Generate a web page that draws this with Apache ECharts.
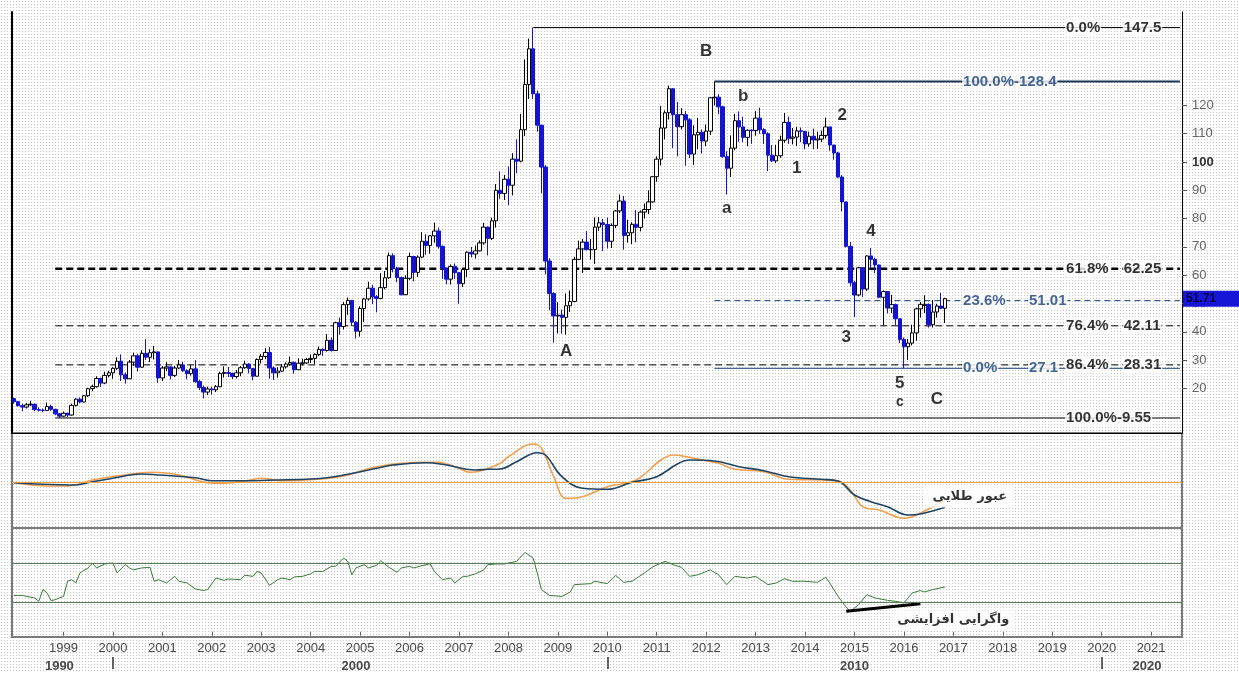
<!DOCTYPE html>
<html>
<head>
<meta charset="utf-8">
<script src="https://cdn.jsdelivr.net/npm/echarts@6/dist/echarts.min.js"></script>
<style>
  html, body { margin: 0; padding: 0; }
  #chart {
    width: 1239px;
    height: 673px;
    background-color: #fff;
    background-image: radial-gradient(#c6c6c6 0.7px, transparent 0.8px);
    background-size: 3px 3px;
  }
</style>
</head>
<body>
<div id="chart"></div>
<script>
// monthly categories Jan 1998 .. Aug 2021
const months = [];
for (let y = 1998; y <= 2021; y++) {
  for (let m = 1; m <= 12; m++) {
    if (y === 2021 && m > 8) break;
    months.push(y + "-" + String(m).padStart(2, "0"));
  }
}

// Brent monthly candles [open, close, low, high]
const candles = [
  // 1998
  [16.4, 15.3, 14.6, 16.7], [15.3, 13.9, 13.6, 15.6], [13.9, 13.4, 11.9, 14.6], [13.4, 14.2, 12.9, 14.9],
  [14.2, 14.4, 13.8, 15.6], [14.4, 12.5, 11.9, 14.6], [12.5, 12.3, 11.8, 13.3], [12.3, 12.2, 11.6, 12.9],
  [12.2, 13.6, 12.1, 15.0], [13.6, 12.6, 12.1, 14.2], [12.6, 11.0, 10.6, 12.8], [11.0, 10.2, 9.55, 11.2],
  // 1999
  [10.2, 11.2, 10.0, 11.8], [11.2, 10.6, 9.9, 11.4], [10.6, 14.0, 10.4, 14.6], [14.0, 16.2, 13.6, 16.6],
  [16.2, 15.2, 14.8, 16.8], [15.2, 17.4, 15.0, 17.6], [17.4, 19.9, 17.0, 20.2], [19.9, 20.6, 19.0, 21.3],
  [20.6, 23.5, 20.3, 24.3], [23.5, 21.9, 20.5, 23.8], [21.9, 24.6, 21.5, 25.9], [24.6, 25.5, 23.9, 26.2],
  // 2000
  [25.5, 27.1, 23.4, 27.5], [27.1, 29.6, 26.5, 31.0], [29.6, 24.8, 22.6, 32.0], [24.8, 23.4, 21.7, 25.6],
  [23.4, 29.3, 23.3, 30.0], [29.3, 31.5, 28.0, 32.6], [31.5, 27.5, 26.0, 32.3], [27.5, 32.4, 27.3, 33.5],
  [32.4, 31.0, 30.0, 37.4], [31.0, 32.6, 29.3, 33.8], [32.6, 32.9, 30.2, 35.0], [32.9, 23.7, 21.9, 33.0],
  // 2001
  [23.7, 27.2, 22.6, 27.9], [27.2, 27.6, 26.1, 29.2], [27.6, 24.6, 23.2, 27.5], [24.6, 27.2, 24.0, 28.0],
  [27.2, 28.3, 26.8, 30.0], [28.3, 26.2, 25.9, 29.4], [26.2, 25.2, 23.2, 26.8], [25.2, 26.9, 24.5, 28.3],
  [26.9, 22.4, 22.0, 30.0], [22.4, 20.3, 19.4, 23.0], [20.3, 18.7, 16.5, 21.0], [18.7, 19.8, 17.7, 20.6],
  // 2002
  [19.8, 19.5, 17.8, 20.6], [19.5, 20.6, 18.7, 21.2], [20.6, 25.3, 20.4, 25.9], [25.3, 25.6, 23.8, 27.8],
  [25.6, 25.3, 24.0, 27.6], [25.3, 24.2, 23.3, 25.6], [24.2, 25.5, 23.5, 26.5], [25.5, 27.3, 24.3, 27.9],
  [27.3, 28.6, 26.9, 29.8], [28.6, 27.0, 25.3, 28.9], [27.0, 24.3, 22.9, 27.1], [24.3, 30.2, 24.2, 30.6],
  // 2003
  [30.2, 31.3, 28.8, 32.2], [31.3, 32.7, 30.3, 34.2], [32.7, 27.2, 23.4, 34.6], [27.2, 25.5, 23.0, 27.8],
  [25.5, 26.1, 23.8, 27.5], [26.1, 27.6, 25.8, 28.6], [27.6, 28.6, 27.0, 29.2], [28.6, 29.2, 28.0, 31.2],
  [29.2, 26.6, 25.2, 29.5], [26.6, 28.9, 26.5, 30.6], [28.9, 29.0, 28.1, 30.5], [29.0, 30.2, 28.6, 30.8],
  // 2004
  [30.2, 30.6, 29.0, 32.0], [30.6, 32.0, 28.6, 32.4], [32.0, 33.8, 31.4, 34.8], [33.8, 33.4, 31.4, 34.2],
  [33.4, 37.0, 33.0, 39.2], [37.0, 33.4, 33.0, 38.0], [33.4, 43.2, 33.3, 43.6], [43.2, 41.9, 39.0, 45.0],
  [41.9, 49.6, 40.8, 50.5], [49.6, 51.1, 46.0, 52.1], [51.1, 43.4, 42.0, 51.2], [43.4, 40.2, 37.6, 43.8],
  // 2005
  [40.2, 48.2, 38.3, 49.0], [48.2, 51.6, 43.5, 52.0], [51.6, 55.4, 51.0, 57.7], [55.4, 52.4, 49.8, 56.6],
  [52.4, 51.8, 46.9, 53.0], [51.8, 55.6, 51.5, 60.7], [55.6, 59.1, 55.0, 61.5], [59.1, 66.9, 58.7, 68.0],
  [66.9, 62.3, 61.0, 67.7], [62.3, 59.2, 57.5, 63.0], [59.2, 53.1, 52.9, 59.5], [53.1, 58.9, 53.0, 60.0],
  // 2006
  [58.9, 66.6, 58.3, 68.0], [66.6, 61.0, 57.8, 66.9], [61.0, 66.4, 59.4, 67.0], [66.4, 72.0, 66.0, 75.2],
  [72.0, 70.5, 67.2, 74.5], [70.5, 73.9, 67.6, 74.0], [73.9, 75.6, 71.5, 78.6], [75.6, 70.2, 69.4, 76.8],
  [70.2, 62.5, 58.7, 70.5], [62.5, 58.6, 56.8, 62.6], [58.6, 63.1, 56.7, 63.8], [63.1, 60.9, 58.6, 64.1],
  // 2007
  [60.9, 57.0, 49.9, 61.0], [57.0, 62.0, 55.8, 62.4], [62.0, 68.1, 59.3, 68.4], [68.1, 67.5, 66.3, 70.0],
  [67.5, 68.6, 65.9, 70.5], [68.6, 71.4, 68.4, 72.3], [71.4, 77.0, 70.8, 78.5], [77.0, 73.0, 67.0, 77.2],
  [73.0, 79.2, 72.4, 80.3], [79.2, 90.0, 76.8, 92.2], [90.0, 88.9, 87.0, 96.7], [88.9, 93.9, 86.6, 95.4],
  // 2008
  [93.9, 91.8, 84.7, 98.5], [91.8, 101.0, 88.2, 103.1], [101.0, 100.3, 96.1, 108.0], [100.3, 111.4, 99.9, 117.0],
  [111.4, 127.4, 109.2, 136.2], [127.4, 140.0, 122.3, 143.6], [140.0, 124.1, 122.3, 147.5], [124.1, 113.0, 110.7, 125.2],
  [113.0, 98.2, 89.0, 112.0], [98.2, 65.0, 60.3, 99.0], [65.0, 53.5, 47.6, 66.0], [53.5, 45.6, 36.2, 54.0],
  // 2009
  [45.6, 45.9, 39.4, 50.5], [45.9, 45.1, 39.3, 47.9], [45.1, 49.2, 39.0, 53.5], [49.2, 50.7, 47.0, 54.6],
  [50.7, 65.6, 50.4, 66.4], [65.6, 69.3, 65.3, 72.2], [69.3, 71.7, 60.8, 72.8], [71.7, 69.0, 69.0, 75.6],
  [69.0, 69.1, 65.5, 72.8], [69.1, 77.0, 64.0, 80.4], [77.0, 78.5, 75.6, 80.5], [78.5, 77.9, 68.6, 79.9],
  // 2010
  [77.9, 72.0, 69.4, 80.4], [72.0, 77.6, 69.6, 78.3], [77.6, 82.7, 76.6, 83.0], [82.7, 86.2, 82.0, 88.5],
  [86.2, 74.0, 69.0, 88.0], [74.0, 75.0, 71.5, 79.6], [75.0, 78.0, 71.0, 78.7], [78.0, 76.9, 71.6, 83.0],
  [76.9, 82.3, 75.5, 82.9], [82.3, 83.2, 80.0, 85.3], [83.2, 85.9, 81.6, 90.0], [85.9, 94.8, 85.6, 95.0],
  // 2011
  [94.8, 101.0, 93.0, 102.0], [101.0, 112.0, 98.8, 119.8], [112.0, 117.4, 108.0, 118.2], [117.4, 125.9, 115.0, 127.0],
  [125.9, 116.7, 104.9, 126.0], [116.7, 112.5, 102.0, 121.2], [112.5, 116.7, 111.5, 119.0], [116.7, 114.9, 98.7, 118.0],
  [114.9, 102.8, 101.4, 115.5], [102.8, 109.6, 99.0, 113.0], [109.6, 110.5, 104.5, 115.6], [110.5, 107.4, 103.0, 111.5],
  // 2012
  [107.4, 110.9, 105.6, 113.2], [110.9, 122.7, 109.5, 123.0], [122.7, 122.9, 120.0, 128.4], [122.9, 119.5, 116.9, 124.0],
  [119.5, 101.9, 101.5, 119.9], [101.9, 97.8, 88.5, 103.8], [97.8, 104.9, 94.7, 109.4], [104.9, 114.6, 104.1, 117.0],
  [114.6, 112.4, 107.1, 117.9], [112.4, 108.7, 107.0, 116.0], [108.7, 111.2, 105.6, 111.5], [111.2, 111.1, 106.4, 111.6],
  // 2013
  [111.1, 115.5, 109.3, 118.0], [115.5, 111.4, 110.0, 119.2], [111.4, 110.0, 106.4, 112.0], [110.0, 102.4, 96.8, 110.5],
  [102.4, 100.4, 100.0, 106.0], [100.4, 102.2, 99.6, 106.1], [102.2, 107.7, 101.5, 109.3], [107.7, 114.0, 106.8, 117.3],
  [114.0, 108.4, 106.4, 116.0], [108.4, 108.8, 106.2, 112.0], [108.8, 111.0, 105.6, 112.5], [111.0, 110.8, 107.0, 112.2],
  // 2014
  [110.8, 106.4, 104.5, 110.1], [106.4, 109.1, 105.4, 110.7], [109.1, 107.8, 104.5, 111.8], [107.8, 108.1, 104.6, 110.7],
  [108.1, 109.4, 107.0, 111.1], [109.4, 112.4, 108.3, 115.7], [112.4, 106.0, 104.0, 112.4], [106.0, 103.2, 100.8, 106.0],
  [103.2, 94.7, 94.3, 103.6], [94.7, 85.9, 82.6, 95.4], [85.9, 70.2, 69.8, 86.0], [70.2, 57.3, 56.0, 71.7],
  // 2015
  [57.3, 53.0, 45.2, 58.0], [53.0, 62.6, 52.5, 63.0], [62.6, 55.1, 52.3, 62.6], [55.1, 66.8, 54.4, 67.0],
  [66.8, 65.6, 62.6, 69.6], [65.6, 63.6, 60.7, 66.2], [63.6, 52.2, 51.9, 63.8], [52.2, 54.2, 42.2, 54.6],
  [54.2, 48.4, 46.5, 54.2], [48.4, 49.6, 46.6, 53.1], [49.6, 44.6, 42.4, 50.0], [44.6, 37.3, 36.0, 44.8],
  // 2016
  [37.3, 34.7, 27.1, 38.0], [34.7, 36.0, 30.0, 37.5], [36.0, 39.6, 35.2, 42.5], [39.6, 48.1, 36.8, 48.5],
  [48.1, 49.7, 45.0, 50.5], [49.3, 49.7, 46.6, 52.9], [49.7, 42.5, 41.5, 50.0], [42.5, 47.0, 41.5, 51.2],
  [47.0, 49.1, 45.0, 49.9], [49.1, 48.3, 48.0, 53.7], [48.3, 51.71, 43.1, 52.0]
];
const lastPrice = 51.71;

// fibonacci levels and the month index where each one starts
const fibLevels = [147.5, 128.4, 62.25, 51.01, 42.11, 28.31, 27.1, 9.55];
const fibStart = [126, 170, 10, 170, 10, 10, 170, 10];

// wave count labels
const waveText = ["B", "b", "a", "1", "2", "4", "3", "5", "c", "C", "A"];
const waveIdx = [168, 177, 173, 190, 201, 208, 202, 215, 215, 224, 134];
const waveVal = [139.0, 123.3, 83.7, 97.9, 116.6, 75.4, 38.2, 21.8, 15.0, 16.1, 33.0];

// MACD panel (month index, value)
const macdIdx = [0, 7, 15, 19, 23, 31, 35, 44, 48, 56, 64, 72, 76, 80, 88, 92, 100, 104, 112, 115, 118, 122, 127, 129,
  133, 138, 144, 150, 156, 161, 164, 170, 176, 182, 188, 196, 200, 204, 208, 212, 217, 220, 226];
const macdVal = [-0.7, -2.3, -3, 0.3, 3, 8, 7, 4.3, 1.3, 1.3, 2, 3, 4.3, 7, 13.7, 17, 19.3, 17.7, 12, 12.7, 13, 20.3, 29.3, 27,
  5.3, -6.3, -7.3, -0.3, 5.3, 18, 22, 21, 15.3, 11.3, 5.3, 2.7, 1, -13, -19.7, -24.7, -33, -32, -25.3];
const signalIdx = [0, 7, 13, 19, 30, 34, 40, 47, 50, 56, 60, 65, 72, 80, 88, 96, 103, 107, 111, 114, 118, 120, 126, 128,
  131, 134, 138, 144, 151, 157, 160, 165, 171, 175, 182, 188, 196, 200, 203, 206, 210, 216, 219, 226];
const signalVal = [-0.7, -3.7, -4, 2, 8.7, 9.7, 7, -0.7, -1.3, 1, 3.7, 1.3, 2.3, 6, 15.3, 19.3, 19.7, 15.3, 9.7, 12, 18.7, 25.3, 38, 33.7,
  5.3, -16.3, -14.7, -4.7, 2, 22, 27, 23.7, 18.7, 12.7, 10.3, 2.7, 2, 1.3, -8, -24.7, -28, -36.3, -33, -18];

// RSI panel (month index, value)
const rsiIdx = [0, 2, 5, 6, 7, 8, 9, 10, 12, 13, 14, 15, 16, 18, 19, 20, 22, 24, 25, 27, 28, 29, 31, 33, 34, 35, 37, 39, 40, 42,
  44, 46, 47, 49, 51, 52, 55, 56, 58, 59, 60, 62, 64, 65, 67, 68, 70, 72, 73, 75, 77, 78, 80, 81, 82, 83, 85, 86, 88, 89,
  91, 93, 94, 96, 97, 99, 101, 102, 104, 106, 107, 109, 110, 112, 114, 115, 117, 119, 122, 124, 126, 127, 128, 130, 133,
  135, 136, 140, 141, 144, 146, 148, 150, 153, 155, 158, 160, 162, 164, 166, 169, 171, 173, 175, 178, 180, 183, 185, 187,
  189, 192, 195, 197, 198, 200, 202, 203, 205, 207, 209, 212, 214, 216, 218, 220, 221, 223, 226];
const rsiVal = [37, 37, 34.4, 31, 43, 39.5, 31.7, 32.7, 36, 51.4, 53, 49.7, 60, 65, 70, 65, 69, 70, 60, 68.3, 65, 63, 65, 65.6, 51.4, 53, 49.7, 56.4, 51.4, 49.7,
  43.6, 42, 43, 54.7, 52.4, 53.7, 53, 57.5, 56.4, 61.5, 59.8, 47.3, 53, 54.7, 53, 55.8, 56.4, 59, 61.5, 61.5, 66.6, 66.6, 75, 71.7, 58, 65, 68.3, 65, 67.6, 72.4,
  65.6, 60.5, 65, 66.6, 65, 67.3, 69.3, 61.5, 53, 54.7, 49.7, 56.4, 56.4, 59, 63, 68.3, 69, 69, 71.7, 80.8, 75, 59.8, 42.9, 37, 36,
  40.5, 48, 49, 51.4, 49, 57.5, 50.3, 51.4, 59.8, 66, 71.7, 68.3, 65.6, 56.4, 58, 63, 58, 48, 56.4, 54.7, 56.4, 48, 49.7, 54,
  51.4, 51.4, 50.3, 55.4, 49.7, 36, 25, 20.8, 27.6, 37.8, 34.4, 32, 31, 29.3, 39.5, 42, 40.5, 43, 45.6];
const divergence = [[202, 20.8], [220, 28.6]];

const yearLabelFirst = 12;
const decadeLabels = { 11: "1990", 83: "2000", 204: "2010", 275: "2020" };
const decadeTicks = [24, 144, 264];

const FONT = "Liberation Sans";
const NAVY = "#173f7a";
const L = 12, R = 57;

const pairs = (idx, val) => idx.map((i, k) => [i, val[k]]);

// fib line styles, same order as fibLevels
const fibStyles = [
  { color: "#000", width: 1, type: "solid" },
  { color: "#1b3458", width: 2, type: "solid" },
  { color: "#000", width: 2.5, type: [7, 4] },
  { color: NAVY, width: 1, type: [6, 4] },
  { color: "#000", width: 1, type: [7, 4] },
  { color: "#000", width: 1, type: [7, 4] },
  { color: NAVY, width: 1, type: "solid" },
  { color: "#000", width: 1, type: "solid" },
];
const lastIdx = months.length - 1;
const fibSeries = fibLevels.map((lv, k) => ({
  type: "line", xAxisIndex: 0, yAxisIndex: 0, z: 1, silent: true,
  symbol: "none", lineStyle: fibStyles[k],
  data: [[fibStart[k], lv], [lastIdx, lv]],
}));

function lbl(i, v, text, color) {
  return { value: [i, v], label: { formatter: text, color: color } };
}
const fibLabelData = [
  lbl(255, 147.5, "0.0%", "#000"), lbl(269, 147.5, "147.5", "#000"),
  lbl(230, 128.4, "100.0%-128.4", NAVY),
  lbl(255, 62.25, "61.8%", "#000"), lbl(269, 62.25, "62.25", "#000"),
  lbl(230, 51.01, "23.6%", NAVY), lbl(246, 51.01, "51.01", NAVY),
  lbl(255, 42.11, "76.4%", "#000"), lbl(269, 42.11, "42.11", "#000"),
  lbl(255, 28.31, "86.4%", "#000"), lbl(269, 28.31, "28.31", "#000"),
  lbl(230, 27.1, "0.0%", NAVY), lbl(246, 27.1, "27.1", NAVY),
  lbl(255, 9.55, "100.0%-9.55", "#000"),
];

const waveData = waveText.map((t, k) => ({
  value: [waveIdx[k], waveVal[k]],
  label: { formatter: t, fontSize: t === "c" ? 14 : 17 },
}));

const hidden = { show: false };

const option = {
  backgroundColor: "transparent",
  animation: false,
  grid: [
    { left: L, right: R, top: 12, height: 421 },
    { left: L, right: R, top: 433, height: 95, show: true, borderColor: "#7a7a7a", borderWidth: 2 },
    { left: L, right: R, top: 528, height: 109, show: true, borderColor: "#7a7a7a", borderWidth: 2 },
    { left: L, right: R, top: 105.4, height: 283 },
  ],
  xAxis: [
    { type: "category", gridIndex: 0, data: months, axisLine: { lineStyle: { color: "#000" } },
      axisTick: hidden, axisLabel: hidden, splitLine: hidden },
    { type: "category", gridIndex: 1, data: months, show: false },
    { type: "category", gridIndex: 2, data: months,
      axisLine: hidden,
      axisTick: { show: true, alignWithLabel: true, length: 4, lineStyle: { color: "#666" },
        interval: (i) => i % 12 === 0 && i >= yearLabelFirst },
      axisLabel: { interval: (i) => i % 12 === 0 && i >= yearLabelFirst, formatter: (v) => v.slice(0, 4),
        color: "#4a4a4a", fontFamily: FONT, fontSize: 13, margin: 5 } },
    { type: "category", gridIndex: 2, data: months, position: "bottom", offset: 20,
      axisLine: hidden,
      axisTick: { show: true, alignWithLabel: true, length: 12, lineStyle: { color: "#333", width: 1.5 },
        interval: (i) => decadeTicks.indexOf(i) >= 0 },
      axisLabel: { interval: (i) => decadeLabels[i] !== undefined, formatter: (v, i) => decadeLabels[i] || "",
        color: "#4a4a4a", fontFamily: FONT, fontSize: 13, fontWeight: "bold", margin: 3 } },
    { type: "category", gridIndex: 3, data: months, show: false },
  ],
  yAxis: [
    { type: "value", gridIndex: 0, position: "right", min: 4.24, max: 153,
      axisLine: { show: true, lineStyle: { color: "#000" } },
      axisTick: hidden, axisLabel: hidden, splitLine: hidden },
    { type: "value", gridIndex: 0, position: "left", min: 4.24, max: 153,
      axisLine: { show: true, lineStyle: { color: "#000", width: 2 } },
      axisTick: hidden, axisLabel: hidden, splitLine: hidden },
    { type: "value", gridIndex: 1, min: -46, max: 49, show: false },
    { type: "value", gridIndex: 2, min: -5.3, max: 105.6, show: false },
    { type: "value", gridIndex: 3, position: "right", min: 20, max: 120, interval: 10,
      axisLine: hidden, splitLine: hidden,
      axisTick: { show: true, length: 5, lineStyle: { color: "#555" } },
      axisLabel: { color: "#666", fontFamily: FONT, fontSize: 13, margin: 10,
        formatter: (v) => (v === 100 ? "{b|100}" : String(v)),
        rich: { b: { color: "#333", fontWeight: "bold", fontFamily: FONT, fontSize: 13 } } } },
  ],
  series: [
    ...fibSeries,
    {
      type: "candlestick", xAxisIndex: 0, yAxisIndex: 0, z: 3, barWidth: 4,
      data: candles,
      itemStyle: { color: "#fff", color0: "#1414d0", borderColor: "#000", borderColor0: "#1414d0", borderWidth: 1 },
    },
    {
      type: "scatter", xAxisIndex: 0, yAxisIndex: 0, z: 6, silent: true,
      symbolSize: 1, itemStyle: { color: "transparent" },
      label: { show: true, position: "right", distance: 0, fontFamily: FONT, fontSize: 15, fontWeight: "bold",
        backgroundColor: "#fff", padding: [1, 1] },
      data: fibLabelData,
    },
    {
      type: "scatter", xAxisIndex: 0, yAxisIndex: 0, z: 6, silent: true,
      symbolSize: 1, itemStyle: { color: "transparent" },
      label: { show: true, position: "inside", color: "#000", fontFamily: FONT, fontWeight: "bold" },
      data: waveData,
    },
    {
      type: "line", xAxisIndex: 1, yAxisIndex: 2, symbol: "none", smooth: 0.4, z: 3,
      lineStyle: { color: "#f0a050", width: 1.6 },
      data: pairs(signalIdx, signalVal),
      markLine: { silent: true, symbol: "none", label: hidden,
        lineStyle: { color: "#f2a03a", width: 1, type: "solid" }, data: [{ yAxis: 0 }] },
    },
    {
      type: "line", xAxisIndex: 1, yAxisIndex: 2, symbol: "none", smooth: 0.4, z: 4,
      lineStyle: { color: "#1f4466", width: 1.6 },
      data: pairs(macdIdx, macdVal),
    },
    {
      type: "scatter", xAxisIndex: 1, yAxisIndex: 2, z: 6, silent: true,
      symbolSize: 1, itemStyle: { color: "transparent" },
      label: { show: true, position: "inside", formatter: "عبور طلایی", color: "#000",
        fontFamily: "DejaVu Sans", fontWeight: "bold", fontSize: 13, backgroundColor: "#fff", padding: [4, 8] },
      data: [[232, -15]],
    },
    {
      type: "line", xAxisIndex: 2, yAxisIndex: 3, symbol: "none", z: 3,
      lineStyle: { color: "#3b7a3b", width: 1 },
      data: pairs(rsiIdx, rsiVal),
      markLine: { silent: true, symbol: "none", label: hidden,
        lineStyle: { color: "#557c55", width: 1, type: "solid" }, data: [{ yAxis: 70 }, { yAxis: 30 }] },
    },
    {
      type: "line", xAxisIndex: 2, yAxisIndex: 3, symbol: "none", z: 4,
      lineStyle: { color: "#000", width: 3 },
      data: divergence,
    },
    {
      type: "scatter", xAxisIndex: 2, yAxisIndex: 3, z: 6, silent: true,
      symbolSize: 1, itemStyle: { color: "transparent" },
      label: { show: true, position: "inside", formatter: "واگرایی افزایشی", color: "#000",
        fontFamily: "DejaVu Sans", fontWeight: "bold", fontSize: 13, backgroundColor: "#fff", padding: [3, 6] },
      data: [[228, 12]],
    },
  ],
};

const chart = echarts.init(document.getElementById("chart"));
chart.setOption(option);

// last price tag on the right axis
const tagY = chart.convertToPixel({ yAxisIndex: 0 }, lastPrice);
chart.setOption({
  graphic: [
    { type: "rect", shape: { x: 1183, y: tagY - 8, width: 56, height: 16 }, style: { fill: "#1616d6" }, z: 10 },
    { type: "text", x: 1186, y: tagY, z: 11,
      style: { text: lastPrice.toFixed(2), fill: "#00003a", font: 'bold 12px "Liberation Sans"', verticalAlign: "middle" } },
  ],
});
</script>
</body>
</html>
